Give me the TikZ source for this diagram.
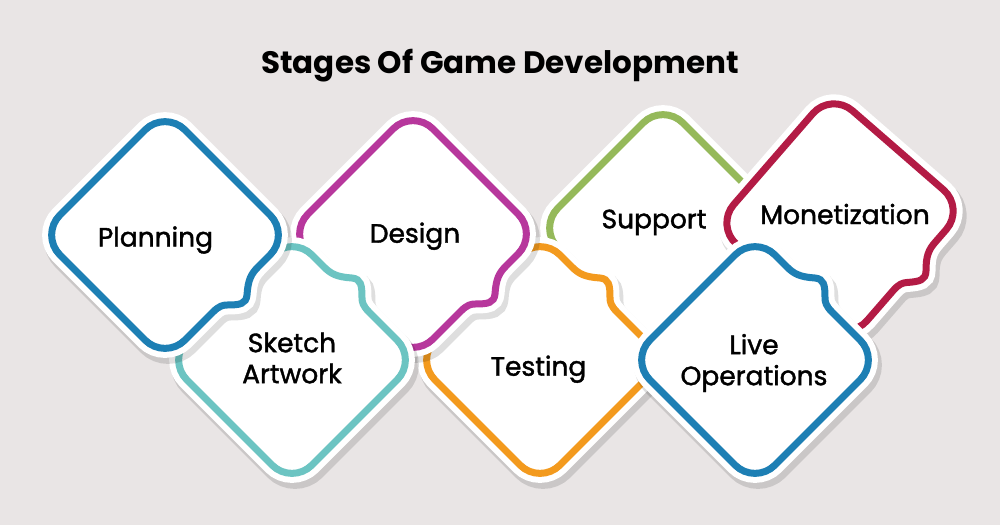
\documentclass[tikz,border=0pt]{standalone}
\usepackage{fontspec}
\setmainfont{Poppins}
\newfontfamily\stagefont[FakeBold=1.5]{Poppins}

\definecolor{bgcol}{HTML}{E9E5E5}
\definecolor{planblue}{HTML}{1D7FB4}
\definecolor{designpink}{HTML}{B7379C}
\definecolor{sketchteal}{HTML}{6CC4C2}
\definecolor{testorange}{HTML}{F39A1E}
\definecolor{supportgreen}{HTML}{95B95A}
\definecolor{monetred}{HTML}{B31B45}

%% rounded diamond, half diagonal 125, with a small step on the lower right side
\newcommand{\stageoutline}{(-105.2,-19.8) -- (-19.8,-105.2)
  .. controls (-8.9,-116.1) and (8.9,-116.1) .. (19.8,-105.2)
  -- (105.2,-19.8) .. controls (116.1,-8.9) and (116.1,8.9) .. (105.2,19.8)
  -- (93,32) .. controls (86,39) and (83,45) .. (82,60)
  .. controls (81,69) and (75,70) .. (62,70)
  .. controls (58,70) and (54,71) .. (48,77)
  -- (19.8,105.2) .. controls (8.9,116.1) and (-8.9,116.1) .. (-19.8,105.2)
  -- (-105.2,19.8) .. controls (-116.1,8.9) and (-116.1,-8.9) .. (-105.2,-19.8)
  -- cycle}

%% #1,#2 centre, #3 rotation, #4 colour
\newcommand{\stage}[4]{%
  \begin{scope}[shift={(#1,#2)}, shift={(3,5)}, rotate=#3, transparency group, opacity=0.13]
    \filldraw[black, line width=21pt] \stageoutline;
  \end{scope}
  \begin{scope}[shift={(#1,#2)}, rotate=#3]
    \filldraw[white, line width=19pt] \stageoutline;
    \draw[#4, line width=7pt] \stageoutline;
  \end{scope}}

\begin{document}
\begin{tikzpicture}[x=1pt, y=-1pt,
    stagetext/.style={font=\stagefont\fontsize{26.5}{31}\selectfont, align=center, inner sep=0pt}]
  \fill[bgcol] (0,0) rectangle (1000,525);
  \useasboundingbox (0,0) rectangle (1000,525);

  \node[font=\fontsize{31}{36}\selectfont\bfseries, anchor=base] (title) at (500,73.5)
    {Stages Of Game Development};

  %% back to front
  \stage{663}{228}{0}{supportgreen}
  \stage{840}{217}{4}{monetred}
  \stage{540}{360}{90}{testorange}
  \stage{413}{234}{0}{designpink}
  \stage{292}{360}{90}{sketchteal}
  \stage{165}{235}{0}{planblue}
  \stage{755}{360}{90}{planblue}

  \node[stagetext, anchor=base] (plan) at (155.5,246.5) {Planning};
  \node[stagetext, anchor=base] (design) at (415,242.7) {Design};
  \node[stagetext] (sketch) at (292,358) {Sketch\\Artwork};
  \node[stagetext, anchor=base] (test) at (538.5,375.7) {Testing};
  \node[stagetext, anchor=base] (support) at (654,228.3) {Support};
  \node[stagetext, anchor=base] (monet) at (845,224) {Monetization};
  \node[stagetext] (live) at (754,363) {Live\\Operations};
\end{tikzpicture}
\end{document}
